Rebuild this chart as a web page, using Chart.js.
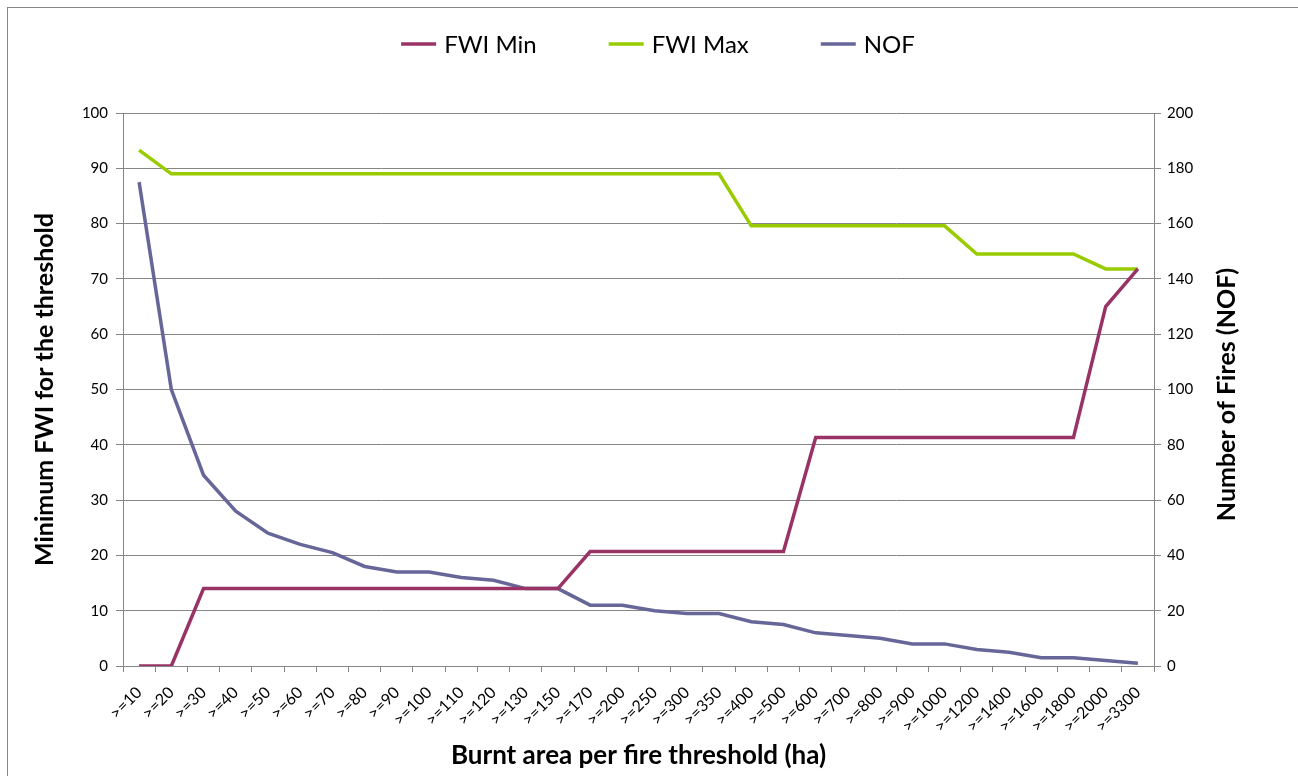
<!DOCTYPE html>
<html>
<head>
<meta charset="utf-8">
<title>FWI thresholds</title>
<script src="https://cdn.jsdelivr.net/npm/chart.js@4"></script>
<style>
  html, body { margin: 0; padding: 0; overflow: hidden; background: #fff; }
  #wrap { position: relative; width: 1298px; height: 776px; }
</style>
</head>
<body>
<div id="wrap"><canvas id="fwi-chart" width="1298" height="776"></canvas></div>
<script>
const thresholds = ['>=10', '>=20', '>=30', '>=40', '>=50', '>=60', '>=70', '>=80', '>=90', '>=100',
  '>=110', '>=120', '>=130', '>=150', '>=170', '>=200', '>=250', '>=300', '>=350', '>=400',
  '>=500', '>=600', '>=700', '>=800', '>=900', '>=1000', '>=1200', '>=1400', '>=1600', '>=1800',
  '>=2000', '>=3300'];

const fwiMin = [0, 0, 14, 14, 14, 14, 14, 14, 14, 14, 14, 14, 14, 14,
  20.7, 20.7, 20.7, 20.7, 20.7, 20.7, 20.7,
  41.3, 41.3, 41.3, 41.3, 41.3, 41.3, 41.3, 41.3, 41.3, 65, 71.8];

const fwiMax = [93.3, 89, 89, 89, 89, 89, 89, 89, 89, 89, 89, 89, 89, 89, 89, 89, 89, 89, 89,
  79.6, 79.6, 79.6, 79.6, 79.6, 79.6, 79.6, 74.5, 74.5, 74.5, 74.5, 71.8, 71.8];

const nof = [175, 100, 69, 56, 48, 44, 41, 36, 34, 34, 32, 31, 28, 28, 22, 22, 20, 19, 19, 16,
  15, 12, 11, 10, 8, 8, 6, 5, 3, 3, 2, 1];

const fwiAxisMax = 100;
const fwiStep = 10;
const nofAxisMax = 200;
const nofStep = 20;

const gray = '#868686';
const fontFamily = 'Lato, "Open Sans", sans-serif';
Chart.defaults.font.family = fontFamily;
Chart.defaults.color = '#000';

// gray frame around the chart (only top/left visible, like the cropped original)
const frame = {
  id: 'frame',
  beforeDraw(chart) {
    const ctx = chart.ctx;
    ctx.save();
    ctx.strokeStyle = gray;
    ctx.lineWidth = 1;
    ctx.strokeRect(7.5, 7.5, 2000, 2000);
    ctx.restore();
  }
};

// legend drawn by hand so it can sit high above the plot
const topLegend = {
  id: 'topLegend',
  afterDraw(chart) {
    const ctx = chart.ctx;
    ctx.save();
    ctx.font = '24px ' + fontFamily;
    ctx.textBaseline = 'middle';
    const items = chart.data.datasets.map(ds => ({
      label: ds.label,
      color: ds.borderColor,
      w: 35 + 8 + ctx.measureText(ds.label).width
    }));
    const gap = 72;
    const total = items.reduce((s, it) => s + it.w, 0) + gap * (items.length - 1);
    let x = 658 - total / 2;
    const y = 44;
    items.forEach(it => {
      ctx.strokeStyle = it.color;
      ctx.lineWidth = 3.5;
      ctx.beginPath();
      ctx.moveTo(x, y);
      ctx.lineTo(x + 35, y);
      ctx.stroke();
      ctx.fillStyle = '#000';
      ctx.fillText(it.label, x + 43, y + 1);
      x += it.w + gap;
    });
    ctx.restore();
  }
};

// right axis title reads bottom-to-top in the original
const rightTitle = {
  id: 'rightTitle',
  afterDraw(chart) {
    const ctx = chart.ctx;
    const area = chart.chartArea;
    ctx.save();
    ctx.translate(1227, (area.top + area.bottom) / 2 + 5);
    ctx.rotate(-Math.PI / 2);
    ctx.font = 'bold 25px ' + fontFamily;
    ctx.fillStyle = '#000';
    ctx.textAlign = 'center';
    ctx.textBaseline = 'middle';
    ctx.fillText('Number of Fires (NOF)', 0, 0);
    ctx.restore();
  }
};

const ctx = document.getElementById('fwi-chart').getContext('2d');
const chart = new Chart(ctx, {
  type: 'line',
  data: {
    labels: thresholds,
    datasets: [
      { label: 'FWI Min', data: fwiMin, borderColor: '#993366', yAxisID: 'y' },
      { label: 'FWI Max', data: fwiMax, borderColor: '#99CC00', yAxisID: 'y' },
      { label: 'NOF', data: nof, borderColor: '#666699', yAxisID: 'y1' }
    ]
  },
  options: {
    responsive: false,
    animation: false,
    devicePixelRatio: 1,
    elements: {
      line: { borderWidth: 3.5, tension: 0, borderCapStyle: 'butt' },
      point: { radius: 0, hoverRadius: 0 }
    },
    layout: { padding: { top: 113, left: 0, right: 0, bottom: 0 } },
    plugins: {
      legend: { display: false },
      tooltip: { enabled: false }
    },
    scales: {
      x: {
        offset: true,
        grid: { offset: true, drawOnChartArea: false, drawTicks: true, tickLength: 6, color: gray },
        border: { color: gray },
        ticks: { autoSkip: false, minRotation: 45, maxRotation: 45, padding: 11, font: { size: 16 } },
        title: {
          display: true,
          text: 'Burnt area per fire threshold (ha)',
          font: { size: 26, weight: 'bold' },
          padding: { top: 0, bottom: 5 }
        },
        afterFit(s) { s.height = 110; }
      },
      y: {
        position: 'left',
        min: 0,
        max: fwiAxisMax,
        ticks: { stepSize: fwiStep, padding: 8, font: { size: 15 } },
        grid: { color: gray, tickLength: 7 },
        border: { color: gray },
        title: {
          display: true,
          text: 'Minimum FWI for the threshold',
          font: { size: 25, weight: 'bold' },
          padding: { top: 30, bottom: 0 }
        },
        afterFit(s) { s.width = 123; }
      },
      y1: {
        position: 'right',
        min: 0,
        max: nofAxisMax,
        ticks: { stepSize: nofStep, padding: 6, font: { size: 15 } },
        grid: { drawOnChartArea: false, color: gray, tickLength: 7 },
        border: { color: gray },
        afterFit(s) { s.width = 144; }
      }
    }
  },
  plugins: [frame, topLegend, rightTitle]
});
</script>
</body>
</html>
